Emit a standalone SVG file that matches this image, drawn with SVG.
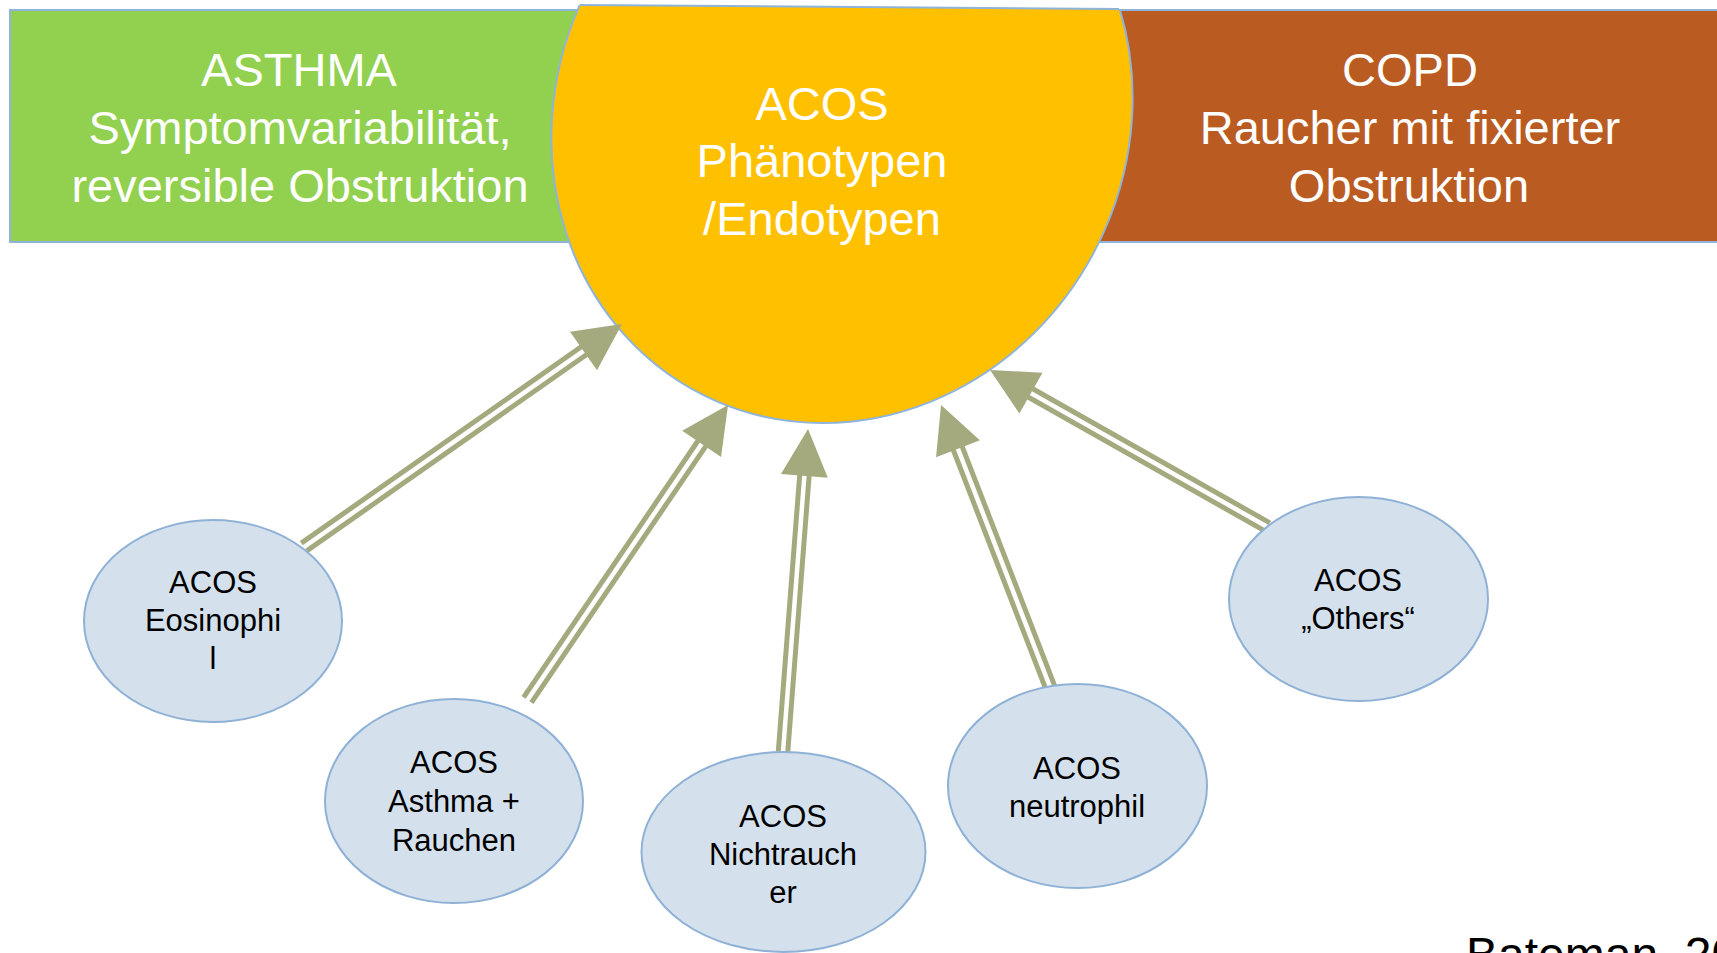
<svg xmlns="http://www.w3.org/2000/svg" xmlns:xlink="http://www.w3.org/1999/xlink" width="1717" height="953" viewBox="0 0 1717 953">
  <style>
    .band { stroke: #8FB4DB; stroke-width: 2; }
    .hdr { font-family: "Liberation Sans", Arial, sans-serif; font-size: 47px; fill: #FFFFFF; text-anchor: middle; }
    .node { fill: #D4E1ED; stroke: #8FB1D6; stroke-width: 2; }
    .lbl { font-family: "Liberation Sans", Arial, sans-serif; font-size: 31px; fill: #000000; text-anchor: middle; }
    .shaft { stroke: #A5A97E; stroke-width: 5; fill: none; }
    .head { fill: #A5A97E; }
    .cite { font-family: "Liberation Sans", Arial, sans-serif; font-size: 48px; fill: #000000; }
  </style>
  <defs>
    <!-- cuts the top of the central ellipse along a slightly tilted line -->
    <clipPath id="topCut">
      <polygon points="400,3.66 1300,10.34 1300,600 400,600"/>
    </clipPath>
    <!-- arrowhead pointing along +x with its tip at the origin -->
    <polygon id="arrowHead" class="head" points="0,0 -47,-23.5 -47,23.5"/>
  </defs>

  <rect width="1717" height="953" fill="#FFFFFF"/>

  <!-- side bands -->
  <g id="asthma">
    <rect class="band" x="10" y="10" width="600" height="232" fill="#92D050"/>
    <text class="hdr" x="299" y="86">ASTHMA</text>
    <text class="hdr" x="300" y="144">Symptomvariabilität,</text>
    <text class="hdr" x="300" y="202">reversible Obstruktion</text>
  </g>
  <g id="copd">
    <rect class="band" x="1040" y="10" width="690" height="232" fill="#BA5B22"/>
    <text class="hdr" x="1410" y="86">COPD</text>
    <text class="hdr" x="1410" y="144">Raucher mit fixierter</text>
    <text class="hdr" x="1409" y="202">Obstruktion</text>
  </g>

  <!-- central phenotype shape -->
  <g id="acos">
    <g clip-path="url(#topCut)">
      <ellipse cx="0" cy="0" rx="290" ry="305" transform="translate(842,118) skewX(-3.6)" fill="#FFC000" stroke="#8FB4DB" stroke-width="2"/>
    </g>
    <line x1="580" y1="5" x2="1119" y2="9" stroke="#8FB4DB" stroke-width="2"/>
    <text class="hdr" x="822" y="120">ACOS</text>
    <text class="hdr" x="822" y="177">Phänotypen</text>
    <text class="hdr" x="822" y="235">/Endotypen</text>
  </g>

  <!-- double-line arrows from the phenotype nodes to the centre -->
  <g id="connectors">
    <g transform="translate(304,547) rotate(-35.04)">
      <line class="shaft" x1="0" y1="-4.75" x2="345" y2="-4.75"/>
      <line class="shaft" x1="0" y1="4.75" x2="345" y2="4.75"/>
      <use xlink:href="#arrowHead" x="388.4" y="0"/>
    </g>
    <g transform="translate(527.5,700) rotate(-55.79)">
      <line class="shaft" x1="0" y1="-4.75" x2="313" y2="-4.75"/>
      <line class="shaft" x1="0" y1="4.75" x2="313" y2="4.75"/>
      <use xlink:href="#arrowHead" x="356.7" y="0"/>
    </g>
    <g transform="translate(783,752) rotate(-85.57)">
      <line class="shaft" x1="0" y1="-4.75" x2="280" y2="-4.75"/>
      <line class="shaft" x1="0" y1="4.75" x2="280" y2="4.75"/>
      <use xlink:href="#arrowHead" x="324" y="0"/>
    </g>
    <g transform="translate(1052,692) rotate(-111.14)">
      <line class="shaft" x1="0" y1="-4.75" x2="264" y2="-4.75"/>
      <line class="shaft" x1="0" y1="4.75" x2="264" y2="4.75"/>
      <use xlink:href="#arrowHead" x="307.7" y="0"/>
    </g>
    <g transform="translate(1267.5,527) rotate(-150.5)">
      <line class="shaft" x1="0" y1="-4.75" x2="275" y2="-4.75"/>
      <line class="shaft" x1="0" y1="4.75" x2="275" y2="4.75"/>
      <use xlink:href="#arrowHead" x="318.8" y="0"/>
    </g>
  </g>

  <!-- phenotype nodes -->
  <g id="eosinophil">
    <ellipse class="node" cx="213" cy="621" rx="129" ry="101"/>
    <text class="lbl" x="213" y="593">ACOS</text>
    <text class="lbl" x="213" y="631">Eosinophi</text>
    <text class="lbl" x="213" y="669">l</text>
  </g>
  <g id="asthma-rauchen">
    <ellipse class="node" cx="454" cy="801" rx="129" ry="102"/>
    <text class="lbl" x="454" y="773">ACOS</text>
    <text class="lbl" x="454" y="812">Asthma +</text>
    <text class="lbl" x="454" y="851">Rauchen</text>
  </g>
  <g id="nichtraucher">
    <ellipse class="node" cx="783.5" cy="852" rx="142" ry="100"/>
    <text class="lbl" x="783" y="827">ACOS</text>
    <text class="lbl" x="783" y="865">Nichtrauch</text>
    <text class="lbl" x="783" y="903">er</text>
  </g>
  <g id="neutrophil">
    <ellipse class="node" cx="1077.5" cy="786" rx="129.5" ry="102"/>
    <text class="lbl" x="1077" y="779">ACOS</text>
    <text class="lbl" x="1077" y="817">neutrophil</text>
  </g>
  <g id="others">
    <ellipse class="node" cx="1358.5" cy="599" rx="129.5" ry="102"/>
    <text class="lbl" x="1358" y="591">ACOS</text>
    <text class="lbl" x="1358" y="629">„Others“</text>
  </g>

  <text class="cite" x="1466" y="971">Bateman, 20</text>
</svg>
